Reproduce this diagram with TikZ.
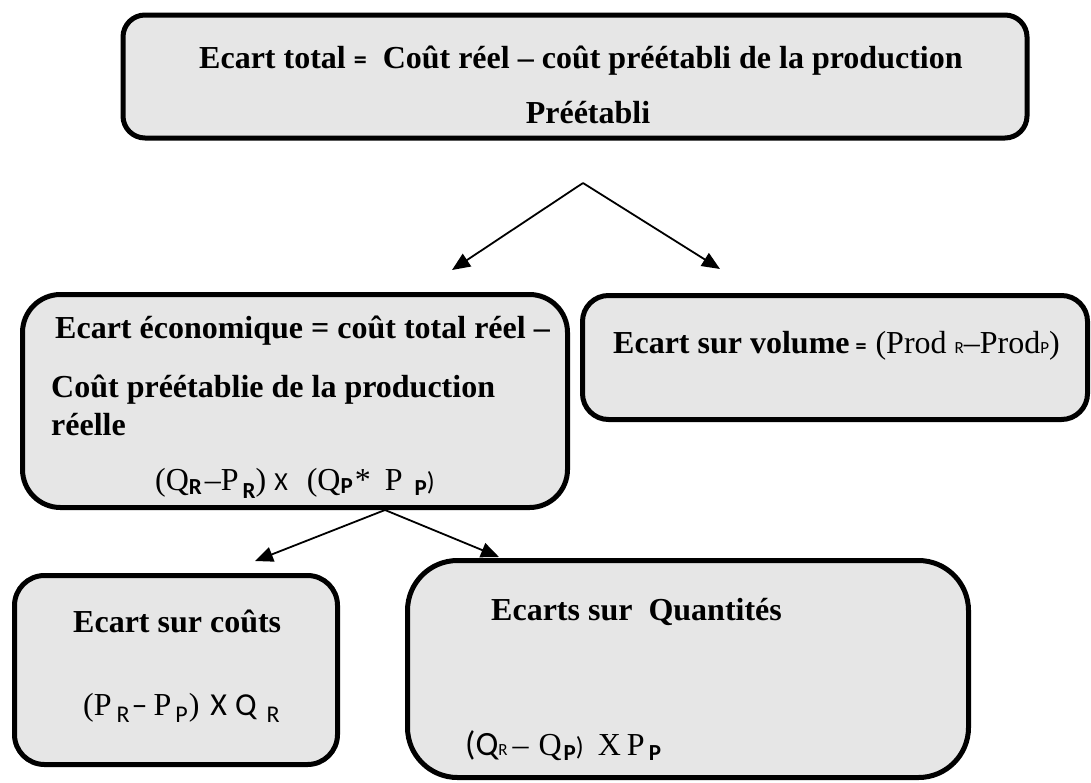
\documentclass[tikz,border=0pt]{standalone}
\usepackage{fontspec}
\setmainfont{Liberation Serif}
\newfontfamily\calib{Carlito}
\usetikzlibrary{arrows.meta}
\definecolor{boxfill}{RGB}{230,230,230}

% text sizes (1pt = 1 drawing unit)
\newcommand\bigT{\fontsize{32}{38}\selectfont}
\newcommand\calX[2][32]{{\calib\fontsize{#1}{#1}\selectfont #2}}
\newcommand\calS[1]{{\calib\fontsize{17}{20}\selectfont #1}}
\newcommand\lowsub[2][7pt]{\raisebox{-#1}{\calib\fontsize{24}{28}\selectfont #2}}
\newcommand\lowsubb[2][6pt]{\raisebox{-#1}{\calib\bfseries\fontsize{23}{27}\selectfont #2}}
\newcommand\gap[1]{\hspace{#1pt}}

\tikzset{
  box/.style={draw=black, line width=5pt, fill=boxfill, inner sep=0pt, outer sep=0pt},
  head/.style={anchor=base west, inner sep=0pt, font=\bigT\bfseries},
  formula/.style={anchor=base west, inner sep=0pt, font=\bigT},
  link/.style={line width=1.8pt, -{Triangle[length=18pt,width=15pt]}}
}

\begin{document}
\begin{tikzpicture}[x=1pt, y=-1pt]
\useasboundingbox (0,0) rectangle (1091,782);

% boxes
\node[box, rounded corners=22pt, minimum width=904pt, minimum height=123pt] (top) at (575,76.5) {};
\node[box, rounded corners=38pt, minimum width=545pt, minimum height=213pt] (eco) at (295,401) {};
\node[box, rounded corners=26pt, minimum width=505pt, minimum height=124pt] (vol) at (835,357.5) {};
\node[box, rounded corners=30pt, minimum width=323pt, minimum height=189pt] (cost) at (176,670) {};
\node[box, rounded corners=50pt, minimum width=561pt, minimum height=217pt] (qty) at (688,669) {};

% texts
\node[head] (topA) at (199,68) {Ecart total \calX[26]{\bfseries=}\gap{16}Coût réel – coût préétabli de la production};
\node[head, anchor=base] (topB) at (588,123) {Préétabli};

\node[head] (ecoA) at (55,338) {Ecart économique = coût total réel –};
\node[head] (ecoB) at (51,397) {Coût préétablie de la production};
\node[head] (ecoC) at (51,435) {réelle};
\node[formula] (ecoF) at (155,490) {(Q\lowsubb[4pt]{R}\gap{3}–P\gap{4}\lowsubb[8pt]{R})\gap{8}\calX[26]{X}\gap{19}(Q\lowsubb[3pt]{P}\gap{2}*\gap{14}P\gap{12}\lowsubb[5pt]{P}\calX[26]{)}};

\node[head] (volA) at (613,353) {Ecart sur volume\gap{6}\calX[22]{\bfseries=}\gap{9}{\mdseries(Prod\gap{8}\calS{R}–Prod\calS{P})}};

\node[head] (costA) at (73,632) {Ecart sur coûts};
\node[formula] (costF) at (83,715) {(P\gap{5}\lowsub{R}\gap{2}\calX{–}\gap{6}P\gap{4}\lowsub{P}\gap{1})\gap{11}\calX{X}\gap{8}\calX{Q}\gap{10}\lowsub{R}};

\node[head] (qtyA) at (491,620) {Ecarts sur\ \ Quantités};
\node[formula] (qtyF) at (465,755) {\calX[34]{(Q}\calS{R}\gap{5}–\gap{10}Q\gap{2}\lowsubb[5pt]{P}\calX[26]{)}\gap{14}X\gap{6}P\gap{4}\lowsubb[5pt]{P}};

% connectors
\coordinate (split1) at (583,183);
\coordinate (toEco) at (452,270);
\coordinate (toVol) at (720,269);
\coordinate (split2) at (385,510);
\coordinate (toCost) at (255,561);
\coordinate (toQty) at (499,557);
\draw[link] (split1) -- (toEco);
\draw[link] (split1) -- (toVol);
\draw[link] (split2) -- (toCost);
\draw[link] (split2) -- (toQty);
\end{tikzpicture}
\end{document}
